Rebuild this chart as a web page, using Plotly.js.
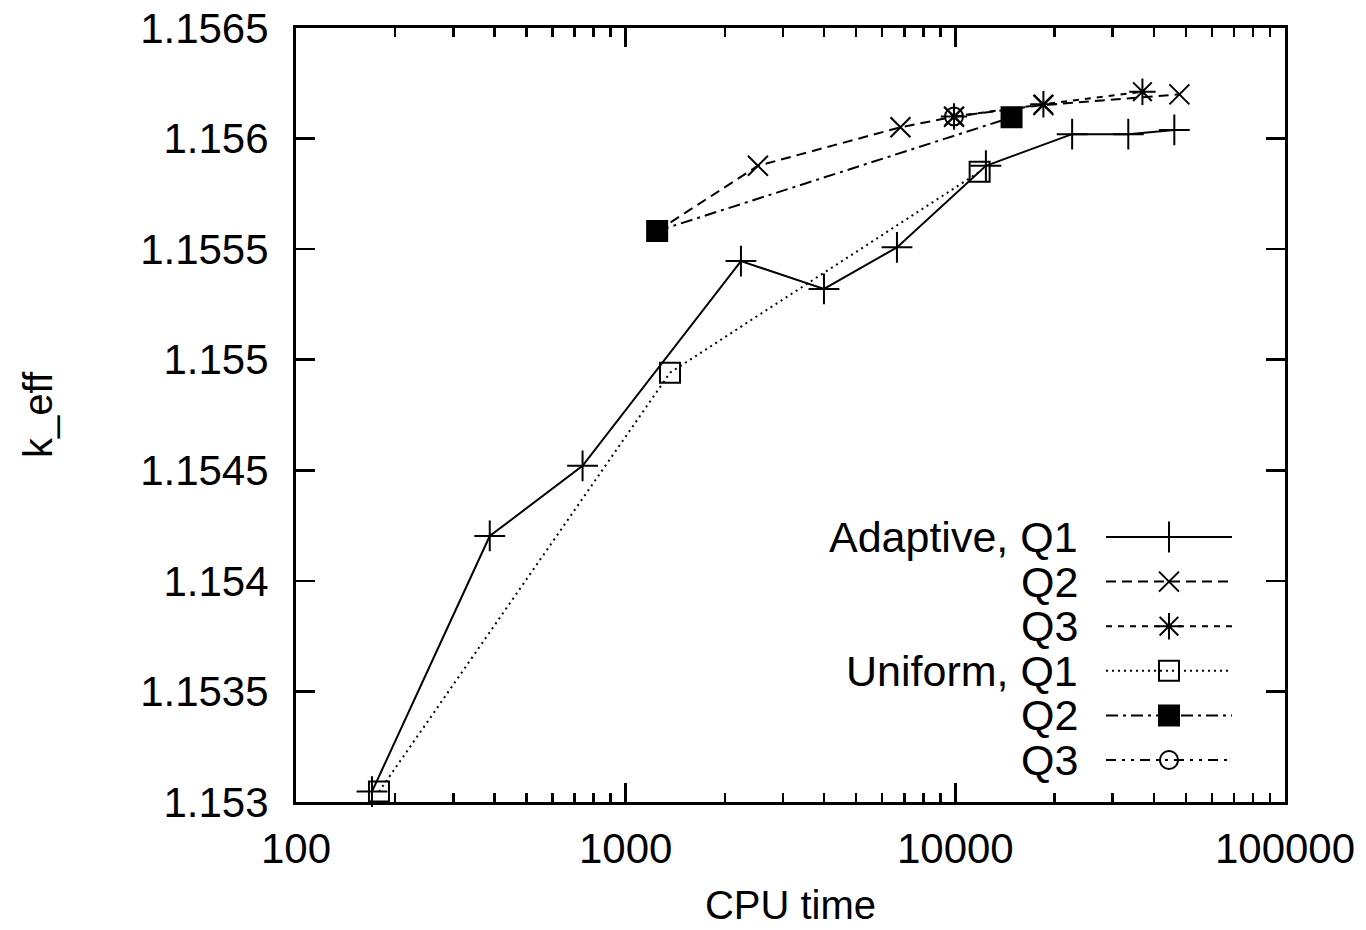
<!DOCTYPE html>
<html>
<head>
<meta charset="utf-8">
<script src="https://cdn.plot.ly/plotly-3.0.1.min.js"></script>
<style>
  html, body { margin: 0; padding: 0; background: #fff; }
  #chart { width: 1366px; height: 930px; }
</style>
</head>
<body>
<div id="chart"></div>
<script>
// ---- data ----
const adaptiveQ1X = [170, 387, 740, 2237, 3995, 6651, 12380, 22610, 33470, 46160];
const adaptiveQ1Y = [1.153047, 1.154203, 1.15452, 1.155446, 1.15532, 1.155508, 1.155877, 1.15602, 1.15602, 1.156039];

const adaptiveQ2X = [1246, 2519, 6816, 9908, 18500, 47830];
const adaptiveQ2Y = [1.155582, 1.155877, 1.156051, 1.156099, 1.156152, 1.1562];

const adaptiveQ3X = [9908, 18500, 36940];
const adaptiveQ3Y = [1.1561, 1.156155, 1.156212];

const uniformQ1X = [178.5, 1363, 11850];
const uniformQ1Y = [1.153047, 1.154941, 1.15585];

const uniformQ2X = [1246, 14810];
const uniformQ2Y = [1.155582, 1.156096];

const uniformQ3X = [9908];
const uniformQ3Y = [1.1561];

const seriesNames = ["Adaptive, Q1", "Q2", "Q3", "Uniform, Q1", "Q2", "Q3"];

const xTickVals = [100, 1000, 10000, 100000];
const xTickLabels = ["100", "1000", "10000", "100000"];
const xMinorVals = [200,300,400,500,600,700,800,900,2000,3000,4000,5000,6000,7000,8000,9000,20000,30000,40000,50000,60000,70000,80000,90000];
const yTickVals = [1.153, 1.1535, 1.154, 1.1545, 1.155, 1.1555, 1.156, 1.1565];
const yTickLabels = ["1.153", "1.1535", "1.154", "1.1545", "1.155", "1.1555", "1.156", "1.1565"];

// ---- styles ----
const FONT = "Liberation Sans, Arial, Helvetica, sans-serif";
const styles = [
  {dash: "solid", symbol: "cross-thin-open", size: 22},
  {dash: "10px,6px", symbol: "x-thin-open", size: 20},
  {dash: "6px,6px", symbol: "asterisk-open", size: 22},
  {dash: "2px,4px", symbol: "square-open", size: 20},
  {dash: "12px,5px,3px,5px", symbol: "square", size: 20},
  {dash: "10px,6px,3px,6px,3px,6px", symbol: "circle-open", size: 18}
];
const dataX = [adaptiveQ1X, adaptiveQ2X, adaptiveQ3X, uniformQ1X, uniformQ2X, uniformQ3X];
const dataY = [adaptiveQ1Y, adaptiveQ2Y, adaptiveQ3Y, uniformQ1Y, uniformQ2Y, uniformQ3Y];

const traces = [];
for (let i = 0; i < 6; i++) {
  const s = styles[i];
  traces.push({
    x: dataX[i], y: dataY[i],
    type: "scatter", mode: "lines+markers",
    name: seriesNames[i], showlegend: false,
    line: {color: "black", width: 2, dash: s.dash},
    marker: {symbol: s.symbol, size: s.size, color: "black",
             line: {color: "black", width: 2}},
    xaxis: "x", yaxis: "y", cliponaxis: false
  });
}

// gnuplot-style key: text right-aligned, sample to the right
const annotations = [];
for (let i = 0; i < 6; i++) {
  const s = styles[i];
  const row = 5 - i;
  traces.push({
    x: [0, 1], y: [row, row],
    type: "scatter", mode: "lines",
    showlegend: false, hoverinfo: "skip",
    line: {color: "black", width: 2, dash: s.dash},
    xaxis: "x2", yaxis: "y2", cliponaxis: false
  });
  traces.push({
    x: [0.5], y: [row],
    type: "scatter", mode: "markers",
    showlegend: false, hoverinfo: "skip",
    marker: {symbol: s.symbol, size: s.size, color: "black",
             line: {color: "black", width: 2}},
    xaxis: "x2", yaxis: "y2", cliponaxis: false
  });
  annotations.push({
    xref: "x2", yref: "y2", x: 0, y: row,
    text: seriesNames[i], showarrow: false,
    xanchor: "right", yanchor: "middle", xshift: -26,
    font: {family: FONT, size: 43, color: "black"}
  });
}

const layout = {
  width: 1366, height: 930,
  margin: {l: 296, r: 81, t: 28, b: 128},
  paper_bgcolor: "white", plot_bgcolor: "white",
  showlegend: false,
  font: {family: FONT, color: "black"},
  xaxis: {
    type: "log", range: [2, 5],
    tickmode: "array", tickvals: xTickVals, ticktext: xTickLabels,
    ticks: "inside", ticklen: 19, tickwidth: 2.5, tickcolor: "black",
    showline: true, linewidth: 3, linecolor: "black", mirror: "ticks",
    showgrid: false, zeroline: false,
    tickfont: {family: FONT, size: 42, color: "black"},
    ticklabelstandoff: 8,
    minor: {tickmode: "array", tickvals: xMinorVals, ticks: "inside",
            ticklen: 9, tickwidth: 2.5, tickcolor: "black", showgrid: false},
    title: {text: "CPU time", font: {family: FONT, size: 40, color: "black"}, standoff: 20}
  },
  yaxis: {
    range: [1.153, 1.1565],
    tickmode: "array", tickvals: yTickVals, ticktext: yTickLabels,
    ticks: "inside", ticklen: 19, tickwidth: 2.5, tickcolor: "black",
    showline: true, linewidth: 3, linecolor: "black", mirror: "ticks",
    showgrid: false, zeroline: false,
    tickfont: {family: FONT, size: 42, color: "black"},
    ticklabelstandoff: 16,
    title: {text: "k_eff", font: {family: FONT, size: 40, color: "black"}, standoff: 76}
  },
  xaxis2: {domain: [0.819, 0.9464], range: [0, 1], visible: false, fixedrange: true, anchor: "y2"},
  yaxis2: {domain: [0.02545, 0.3712], range: [-0.5, 5.5], visible: false, fixedrange: true, anchor: "x2"},
  annotations: annotations
};

Plotly.newPlot("chart", traces, layout, {displayModeBar: false, staticPlot: true});
</script>
</body>
</html>
